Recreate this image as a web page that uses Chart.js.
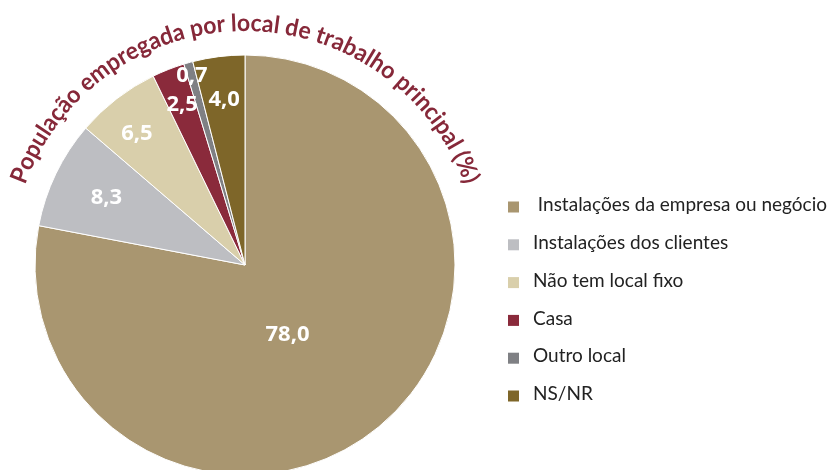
<!DOCTYPE html>
<html>
<head>
<meta charset="utf-8">
<script src="https://cdn.jsdelivr.net/npm/chart.js@4.4.0/dist/chart.umd.min.js"></script>
<style>
  html, body { margin: 0; padding: 0; background: #fff; overflow: hidden; }
</style>
</head>
<body>
<!-- canvas a little taller than the window: the pie runs off the bottom -->
<canvas id="chart" width="833" height="490"></canvas>
<script>
// data
const categories = [
  " Instalações da empresa ou negócio",
  "Instalações dos clientes",
  "Não tem local fixo",
  "Casa",
  "Outro local",
  "NS/NR"
];
const shares = [78.0, 8.3, 6.5, 2.5, 0.7, 4.0];
const sliceColors = ["#A99670", "#BDBEC2", "#D9CFAB", "#8A2A3B", "#7F8084", "#7E6629"];
const chartTitle = "População empregada por local de trabalho principal (%)";

// title bent round the top of the pie
const archTitle = {
  id: "archTitle",
  afterDraw(chart, args, opts) {
    const arc = chart.getDatasetMeta(0).data[0];
    if (!arc) return;
    const { x: cx, y: cy, outerRadius } = arc.getProps(["x", "y", "outerRadius"], true);
    const ctx = chart.ctx;
    const R = outerRadius + opts.gap;
    const span = opts.span * Math.PI / 180;
    ctx.save();
    ctx.font = opts.font;
    ctx.fillStyle = opts.color;
    ctx.textAlign = "center";
    ctx.textBaseline = "alphabetic";
    const chars = Array.from(opts.text);
    const widths = chars.map((ch) => ctx.measureText(ch).width);
    const total = widths.reduce((a, b) => a + b, 0);
    const sx = (R * span) / total;
    let a = -span / 2 + (opts.shift || 0) * Math.PI / 180;
    chars.forEach((ch, i) => {
      const w = widths[i] * sx;
      const mid = a + w / 2 / R;
      ctx.save();
      ctx.translate(cx + R * Math.sin(mid), cy - R * Math.cos(mid));
      ctx.rotate(mid);
      ctx.scale(sx, 1);
      ctx.fillText(ch, 0, 0);
      ctx.restore();
      a += w / R;
    });
    ctx.restore();
  }
};

// white values inside the slices
const sliceLabels = {
  id: "sliceLabels",
  afterDatasetsDraw(chart, args, opts) {
    const ctx = chart.ctx;
    const values = chart.data.datasets[0].data;
    ctx.save();
    ctx.font = opts.font;
    ctx.fillStyle = opts.color;
    ctx.textAlign = "center";
    ctx.textBaseline = "middle";
    chart.getDatasetMeta(0).data.forEach((arc, i) => {
      const p = arc.getProps(["x", "y", "startAngle", "endAngle", "outerRadius"], true);
      const ang = (p.startAngle + p.endAngle) / 2 + opts.turn[i] * Math.PI / 180;
      const r = p.outerRadius * opts.radius[i];
      const txt = values[i].toFixed(1).replace(".", ",");
      ctx.fillText(txt, p.x + r * Math.cos(ang), p.y + r * Math.sin(ang));
    });
    ctx.restore();
  }
};

// legend on the right, square markers
const sideLegend = {
  id: "sideLegend",
  afterDraw(chart, args, opts) {
    const ctx = chart.ctx;
    const colors = chart.data.datasets[0].backgroundColor;
    ctx.save();
    ctx.font = opts.font;
    ctx.textAlign = "left";
    ctx.textBaseline = "middle";
    chart.data.labels.forEach((label, i) => {
      const y = opts.top + i * opts.step;
      ctx.fillStyle = colors[i];
      ctx.fillRect(opts.left, y - opts.box / 2, opts.box, opts.box);
      ctx.fillStyle = opts.color;
      ctx.fillText(label, opts.left + opts.box + opts.gap, y - 2);
    });
    ctx.restore();
  }
};

new Chart(document.getElementById("chart"), {
  type: "pie",
  data: {
    labels: categories,
    datasets: [{
      data: shares,
      backgroundColor: sliceColors,
      borderColor: "#ffffff",
      borderWidth: 1,
      hoverOffset: 0,
      radius: 210
    }]
  },
  options: {
    responsive: false,
    animation: false,
    layout: { padding: { left: 25, right: 368, top: 45, bottom: 5 } },
    plugins: {
      legend: { display: false },
      tooltip: { enabled: false },
      archTitle: {
        text: chartTitle,
        font: "bold 24px Lato",
        color: "#862839",
        gap: 24,
        span: 140
      },
      sliceLabels: {
        font: "bold 22px 'Open Sans'",
        color: "#ffffff",
        radius: [0.39, 0.733, 0.81, 0.82, 0.936, 0.794],
        turn: [8.3, 0, -1.8, 0, 0, 0]
      },
      sideLegend: {
        font: "19px Lato",
        color: "#222222",
        left: 508,
        top: 207,
        step: 37.8,
        box: 11,
        gap: 14
      }
    }
  },
  plugins: [archTitle, sliceLabels, sideLegend]
});
</script>
</body>
</html>
